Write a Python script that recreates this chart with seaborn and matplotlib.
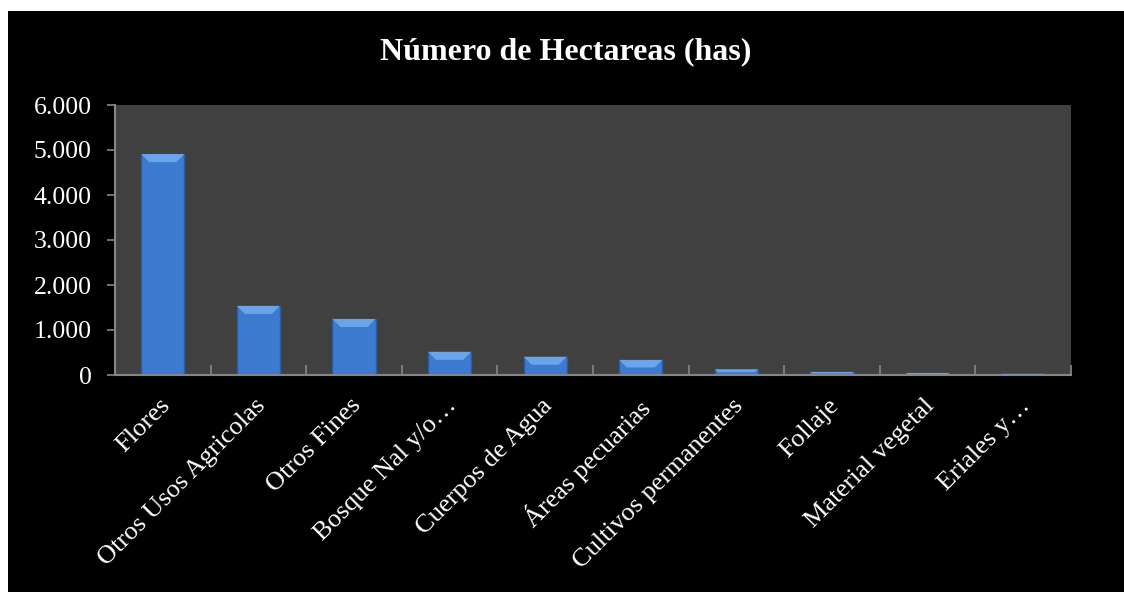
import matplotlib
matplotlib.use("Agg")
import matplotlib.pyplot as plt
import matplotlib.transforms as mtransforms
import seaborn as sns
import pandas as pd
from matplotlib.patches import Rectangle, Polygon
from matplotlib.ticker import FixedLocator

categories = ["Flores", "Otros Usos Agricolas", "Otros Fines", "Bosque Nal y/o…",
              "Cuerpos de Agua", "Áreas pecuarias", "Cultivos permanentes", "Follaje",
              "Material vegetal", "Eriales y…"]
hectareas = [4910, 1535, 1245, 515, 405, 335, 128, 68, 45, 25]
yticks = [0, 1000, 2000, 3000, 4000, 5000, 6000]
ytick_labels = ["0", "1.000", "2.000", "3.000", "4.000", "5.000", "6.000"]
title = "Número de Hectareas (has)"

df = pd.DataFrame({"cat": categories, "val": hectareas})

sns.set_theme(style="white")
plt.rcParams["font.family"] = ["Liberation Serif", "DejaVu Serif"]

W, H = 1124, 592
fig = plt.figure(figsize=(W / 100, H / 100), dpi=100, facecolor="white")
bg = Rectangle((8 / W, 0), 1 - 8 / W, 1 - 11 / H, transform=fig.transFigure,
               facecolor="black", edgecolor="none", zorder=-10)
fig.add_artist(bg)
ax = fig.add_axes([115 / W, 1 - 375 / H, (1071 - 115) / W, (375 - 105) / H])
ax.set_zorder(1)
ax.set_facecolor("#404040")

sns.barplot(data=df, x="cat", y="val", ax=ax, color="#3C7BCF", width=0.45,
            edgecolor="#2A5C9E", linewidth=1.0, saturation=1)

ax.set_xlim(-0.5, len(categories) - 0.5)
ax.set_ylim(0, 6000)

# bevel highlight on top of each bar
fig.canvas.draw()
inv = ax.transData.inverted()
for p in list(ax.patches):
    x0, y0 = p.get_x(), p.get_y()
    w, h = p.get_width(), p.get_height()
    (px0, py0) = ax.transData.transform((x0, y0 + h))
    (px1, _) = ax.transData.transform((x0 + w, y0 + h))
    pybase = ax.transData.transform((x0, y0))[1]
    bh = min(8, (py0 - pybase) * 0.5)
    pts_px = [(px0, py0), (px1, py0), (px1 - bh, py0 - bh), (px0 + bh, py0 - bh)]
    pts = [inv.transform(pt) for pt in pts_px]
    ax.add_patch(Polygon(pts, closed=True, facecolor="#6AA5EC", edgecolor="none", zorder=3))

ax.set_xlabel("")
ax.set_ylabel("")
ax.yaxis.set_major_locator(FixedLocator(yticks))
ax.set_yticklabels(ytick_labels, fontsize=18.5, color="white")
ax.set_xticks(range(len(categories)))
ax.set_xticklabels(categories, rotation=45, ha="right", rotation_mode="anchor",
                   fontsize=19, color="white")
ax.tick_params(axis="x", which="major", length=0, pad=14)
ax.tick_params(axis="y", length=6, width=1.2, color="#868686", direction="out", left=True, pad=11)

shift = mtransforms.ScaledTranslation(-4 / 100, 0, fig.dpi_scale_trans)
for lbl in ax.get_xticklabels():
    lbl.set_transform(lbl.get_transform() + shift)

ax.xaxis.set_minor_locator(FixedLocator([i + 0.5 for i in range(len(categories))]))
ax.tick_params(axis="x", which="minor", length=7, width=1.2, color="#868686", direction="in", bottom=True)

for s in ["top", "right"]:
    ax.spines[s].set_visible(False)
for s in ["left", "bottom"]:
    ax.spines[s].set_color("#868686")
    ax.spines[s].set_linewidth(1.5)

fig.text((8 + W) / 2 / W, 1 - 52 / H, title, ha="center", va="center",
         fontsize=23, fontweight="bold", color="white")

fig.savefig("out.png", dpi=100, facecolor="white")
